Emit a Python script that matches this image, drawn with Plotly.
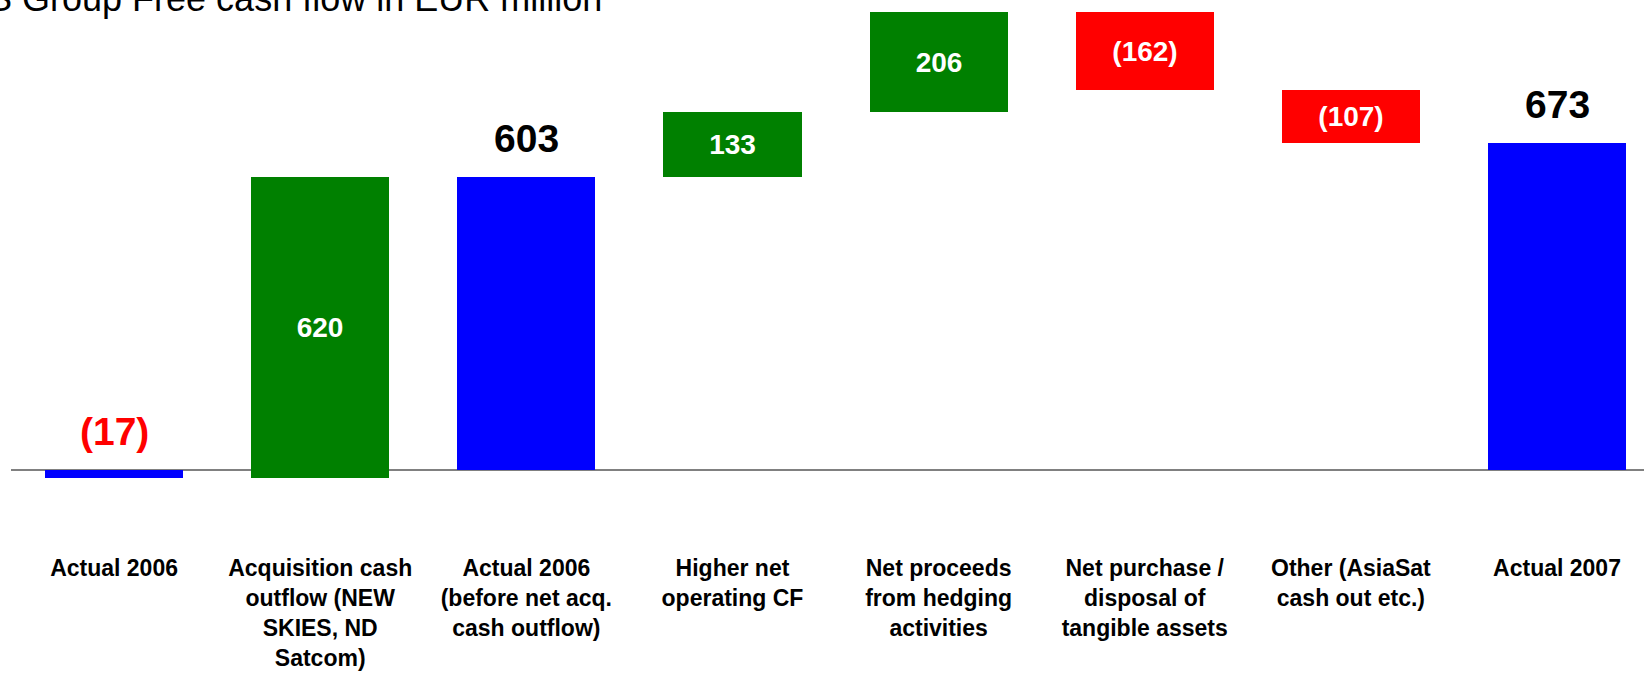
import plotly.graph_objects as go

# ---- data ----
categories = [
    "Actual 2006",
    "Acquisition cash<br>outflow (NEW<br>SKIES, ND<br>Satcom)",
    "Actual 2006<br>(before net acq.<br>cash outflow)",
    "Higher net<br>operating CF",
    "Net proceeds<br>from hedging<br>activities",
    "Net purchase /<br>disposal of<br>tangible assets",
    "Other (AsiaSat<br>cash out etc.)",
    "Actual 2007",
]
values = [-17, 620, 603, 133, 206, -162, -107, 673]
kinds = ["total", "delta", "total", "delta", "delta", "delta", "delta", "total"]
value_labels = ["(17)", "620", "603", "133", "206", "(162)", "(107)", "673"]
title_text = "SES Group Free cash flow in EUR million"

# ---- styles ----
BLUE, GREEN, RED = "#0000FF", "#008000", "#FF0000"
FONT = "Liberation Sans, Arial, sans-serif"

bases, colors, texts, textpos = [], [], [], []
running = 0
for v, k, lab in zip(values, kinds, value_labels):
    if k == "total":
        bases.append(0)
        running = v
        colors.append(BLUE)
        texts.append("")
        textpos.append("none")
    else:
        bases.append(running)
        running += v
        colors.append(GREEN if v > 0 else RED)
        texts.append(lab)
        textpos.append("inside")

fig = go.Figure()
fig.add_trace(go.Bar(
    x=categories, y=values, base=bases,
    marker=dict(color=colors, line=dict(width=0)),
    width=0.67,
    text=texts, textposition=textpos, insidetextanchor="middle",
    textfont=dict(family=FONT, size=28, color="white", weight="bold"),
    constraintext="none",
    showlegend=False, hoverinfo="skip",
))

# labels above total bars
for c, v, k, lab in zip(categories, values, kinds, value_labels):
    if k == "total":
        fig.add_annotation(
            x=c, y=max(v, 0), xref="x", yref="y",
            text="<b>%s</b>" % lab, showarrow=False,
            yanchor="bottom", yshift=15,
            font=dict(family=FONT, size=39, color=RED if v < 0 else "black"),
        )

W, H = 1644, 675
L, R, T, B = 11, 0, 0, 127
plot_w = W - L - R

# title (partially outside the page, as in the reference)
fig.add_annotation(
    x=(-62 - L) / plot_w, y=1.0, xref="paper", yref="paper",
    xanchor="left", yanchor="bottom", yshift=-21,
    text=title_text, showarrow=False,
    font=dict(family=FONT, size=36, color="black"),
)

fig.update_layout(
    template="none",
    width=W, height=H,
    margin=dict(l=L, r=R, t=T, b=B, autoexpand=False),
    paper_bgcolor="white", plot_bgcolor="white",
    bargap=0,
    xaxis=dict(
        range=[-0.5, 7.422], showgrid=False, showline=False, ticks="",
        tickfont=dict(family=FONT, size=23, color="black", weight="bold"),
        ticklabelstandoff=4,
        zeroline=False, fixedrange=True, automargin=False,
    ),
    yaxis=dict(
        range=[-160.3, 965.9], showgrid=False, showticklabels=False,
        zeroline=True, zerolinecolor="#808080", zerolinewidth=2,
        showline=False, ticks="", layer="above traces", automargin=False,
        fixedrange=True,
    ),
)

fig.write_html(
    "out.html",
    config={"displayModeBar": False},
    post_script="document.body.style.margin='0px';document.body.style.overflow='hidden';",
)
